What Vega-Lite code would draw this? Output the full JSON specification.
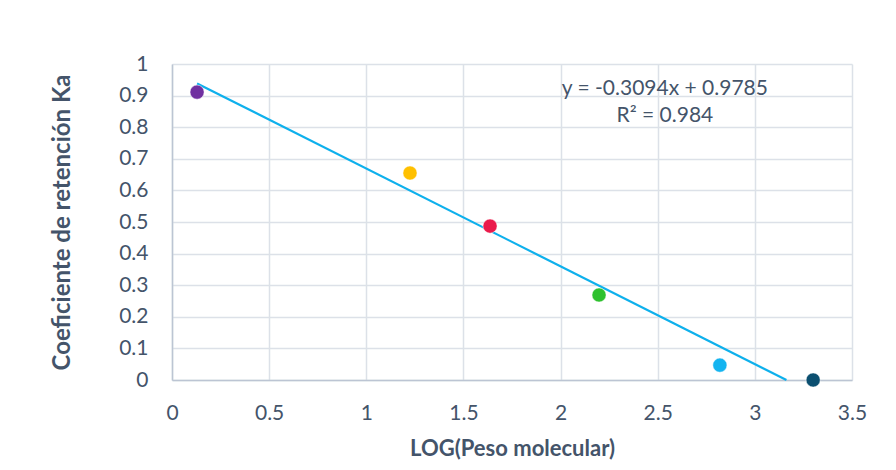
{
  "$schema": "https://vega.github.io/schema/vega-lite/v6.json",
  "width": 680,
  "height": 316,
  "autosize": {"type": "none"},
  "padding": {"left": 172, "top": 64, "right": 44, "bottom": 90},
  "background": "white",
  "config": {
    "font": "Lato",
    "view": {"stroke": null},
    "axis": {
      "labelFont": "Lato",
      "labelFontSize": 21,
      "labelColor": "#44546A",
      "labelOverlap": false,
      "titleFont": "Lato",
      "titleFontSize": 22,
      "titleFontWeight": "bold",
      "titleColor": "#44546A",
      "gridColor": "#DCE1E8",
      "gridWidth": 1.5,
      "domainColor": "#BCC5D3",
      "domainWidth": 1.5,
      "ticks": false,
      "format": "~g"
    }
  },
  "datasets": {
    "points": [
      {"x": 0.129, "y": 0.911, "c": "p1"},
      {"x": 1.225, "y": 0.655, "c": "p2"},
      {"x": 1.637, "y": 0.487, "c": "p3"},
      {"x": 2.198, "y": 0.269, "c": "p4"},
      {"x": 2.82, "y": 0.047, "c": "p5"},
      {"x": 3.30, "y": 0.0, "c": "p6"}
    ],
    "trend": [
      {"x": 0.129, "y": 0.9386},
      {"x": 3.1626, "y": 0.0}
    ],
    "labels": [
      {"x": 2.537, "y": 0.92, "t": "y = -0.3094x + 0.9785"},
      {"x": 2.537, "y": 0.835, "t": "R² = 0.984"}
    ]
  },
  "encoding": {
    "x": {
      "field": "x", "type": "quantitative",
      "scale": {"domain": [0, 3.5], "nice": false},
      "axis": {"values": [0, 0.5, 1, 1.5, 2, 2.5, 3, 3.5], "tickCount": 20, "title": "LOG(Peso molecular)", "labelPadding": 22, "titlePadding": 15, "labelFlush": false}
    },
    "y": {
      "field": "y", "type": "quantitative",
      "scale": {"domain": [0, 1], "nice": false},
      "axis": {"values": [0, 0.1, 0.2, 0.3, 0.4, 0.5, 0.6, 0.7, 0.8, 0.9, 1], "tickCount": 20, "title": "Coeficiente de retención Ka", "titleFontSize": 24, "labelPadding": 24, "titlePadding": 44, "labelFlush": false}
    }
  },
  "layer": [
    {
      "data": {"name": "trend"},
      "mark": {"type": "line", "color": "#0EB0EC", "strokeWidth": 2.2}
    },
    {
      "data": {"name": "points"},
      "mark": {"type": "circle", "size": 200, "opacity": 1, "stroke": "white", "strokeWidth": 0.5},
      "encoding": {
        "color": {
          "field": "c", "type": "nominal", "legend": null,
          "scale": {"domain": ["p1", "p2", "p3", "p4", "p5", "p6"], "range": ["#7030A0", "#FFC000", "#EA1A4B", "#2EC12E", "#14B4F0", "#0B4F70"]}
        }
      }
    },
    {
      "data": {"name": "labels"},
      "mark": {"type": "text", "fontSize": 21, "color": "#44546A", "font": "Lato", "align": "center", "baseline": "middle"},
      "encoding": {
        "text": {"field": "t"}
      }
    }
  ]
}
